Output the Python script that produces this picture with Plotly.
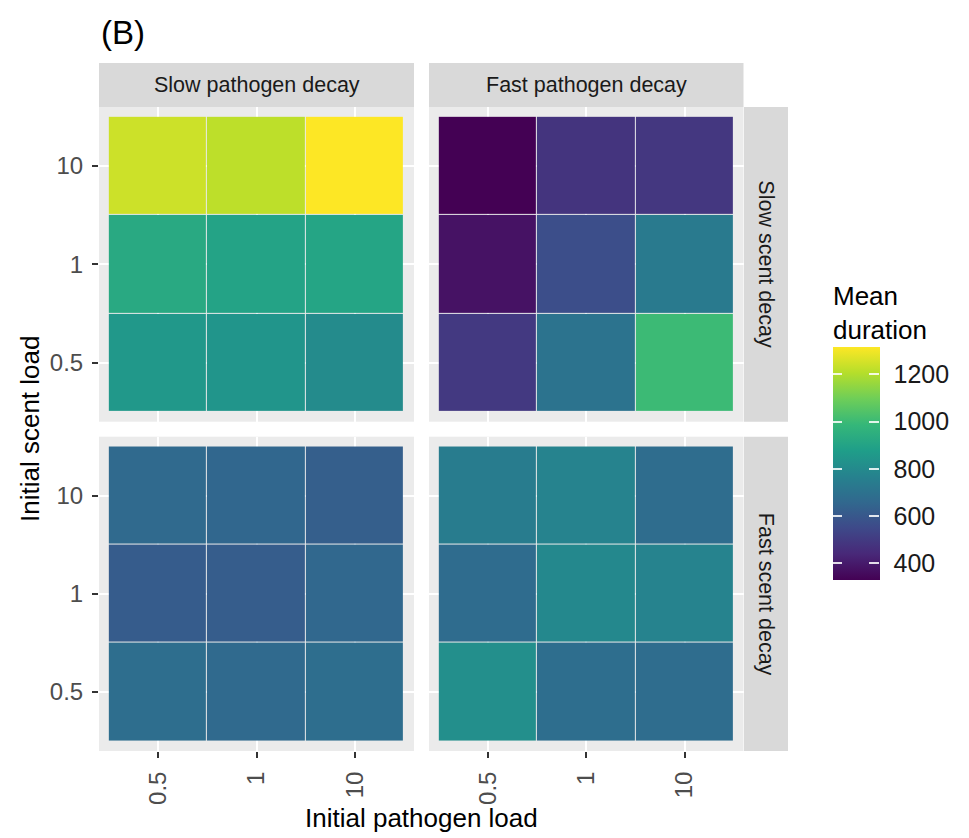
import plotly.graph_objects as go

# ---- data ----
pathogen_loads = ["0.5", "1", "10"]
scent_loads = ["0.5", "1", "10"]
pathogen_facets = ["Slow pathogen decay", "Fast pathogen decay"]
scent_facets = ["Slow scent decay", "Fast scent decay"]

# rows: scent load 0.5, 1, 10 ; columns: pathogen load 0.5, 1, 10
slow_path_slow_scent = [[852, 842, 803],
                        [926, 901, 906],
                        [1241, 1217, 1315]]
fast_path_slow_scent = [[497, 704, 1000],
                        [379, 566, 734],
                        [330, 478, 488]]
slow_path_fast_scent = [[685, 665, 685],
                        [616, 620, 660],
                        [665, 655, 625]]
fast_path_fast_scent = [[818, 685, 680],
                        [675, 793, 773],
                        [744, 773, 680]]

facet_values = {
    (0, 0): slow_path_slow_scent,
    (0, 1): fast_path_slow_scent,
    (1, 0): slow_path_fast_scent,
    (1, 1): fast_path_fast_scent,
}
colorbar_ticks = [400, 600, 800, 1000, 1200]
CMIN, CMAX = 330, 1315

W, H = 969, 838
def px_x(v):
    return v / W
def px_y(v):
    return 1 - v / H

col_dom = [(px_x(99), px_x(414)), (px_x(429), px_x(743.5))]
row_dom = [(px_y(421.7), px_y(107)), (px_y(751), px_y(436.7))]

# colour bar geometry (pixels)
CB_LEFT, CB_TOP, CB_LEN, CB_THICK = 832.7, 347, 233, 47
TICK_LEN = CB_THICK / 5

FONT = "Liberation Sans, Arial, sans-serif"
CLEAR = [[0, "rgba(0,0,0,0)"], [1, "rgba(0,0,0,0)"]]


def overlay_colorbar(left_px):
    """Transparent colour bar that only contributes white inside tick marks."""
    return dict(
        colorscale=CLEAR, cmin=CMIN, cmax=CMAX,
        colorbar=dict(
            x=px_x(left_px), xanchor="left", xpad=0,
            y=px_y(CB_TOP), yanchor="top", ypad=0,
            len=CB_LEN / H, lenmode="fraction",
            thickness=TICK_LEN, outlinewidth=0, borderwidth=0,
            tickvals=colorbar_ticks, showticklabels=False,
            ticks="inside", ticklen=TICK_LEN, tickcolor="rgba(255,255,255,0.85)", tickwidth=1.5,
            title=dict(text=""),
        ),
    )


fig = go.Figure()
layout = dict(
    width=W, height=H,
    margin=dict(l=0, r=0, t=0, b=0),
    paper_bgcolor="white",
    plot_bgcolor="#EBEBEB",
    font=dict(family=FONT, color="#1A1A1A"),
    showlegend=False,
    coloraxis=dict(
        colorscale="Viridis", cmin=CMIN, cmax=CMAX,
        colorbar=dict(
            x=px_x(CB_LEFT), xanchor="left", xpad=0,
            y=px_y(CB_TOP), yanchor="top", ypad=0,
            len=CB_LEN / H, lenmode="fraction",
            thickness=CB_THICK, outlinewidth=0, borderwidth=0,
            tickvals=colorbar_ticks,
            ticks="outside", ticklen=9, tickcolor="rgba(255,255,255,0)", tickwidth=1,
            tickfont=dict(size=25, color="#1A1A1A", family=FONT),
            title=dict(text=""),
        ),
    ),
    coloraxis2=overlay_colorbar(CB_LEFT + CB_THICK - TICK_LEN),
    coloraxis3=overlay_colorbar(CB_LEFT),
)

shapes = []
annotations = []
idx = 0
for r in range(2):
    for c in range(2):
        idx += 1
        xa = "x" if idx == 1 else f"x{idx}"
        ya = "y" if idx == 1 else f"y{idx}"
        fig.add_trace(go.Heatmap(
            x=pathogen_loads, y=scent_loads, z=facet_values[(r, c)],
            coloraxis="coloraxis", xgap=1, ygap=1,
            xaxis=xa, yaxis=ya,
        ))
        xkey = "xaxis" if idx == 1 else f"xaxis{idx}"
        ykey = "yaxis" if idx == 1 else f"yaxis{idx}"
        layout[xkey] = dict(
            domain=col_dom[c], anchor=ya, type="category",
            categoryorder="array", categoryarray=pathogen_loads,
            range=[-0.6, 2.6], showgrid=True, gridcolor="white", gridwidth=2,
            zeroline=False, showline=False, fixedrange=True,
            ticks="outside" if r == 1 else "", ticklen=6, tickwidth=2, tickcolor="#333333",
            showticklabels=(r == 1), tickangle=-90,
            tickfont=dict(size=24, color="#4D4D4D", family=FONT),
            ticklabelstandoff=4,
        )
        layout[ykey] = dict(
            domain=row_dom[r], anchor=xa, type="category",
            categoryorder="array", categoryarray=scent_loads,
            range=[-0.6, 2.6], showgrid=True, gridcolor="white", gridwidth=2,
            zeroline=False, showline=False, fixedrange=True,
            ticks="outside" if c == 0 else "", ticklen=6, tickwidth=2, tickcolor="#333333",
            showticklabels=(c == 0),
            tickfont=dict(size=24, color="#4D4D4D", family=FONT),
            ticklabelstandoff=4,
        )

# invisible helper traces that carry the tick-only overlay colour bars
for ca in ["coloraxis2", "coloraxis3"]:
    fig.add_trace(go.Scatter(
        x=pathogen_loads, y=scent_loads, mode="markers", hoverinfo="skip",
        marker=dict(color=colorbar_ticks[:3], coloraxis=ca, opacity=0, size=1),
        xaxis="x", yaxis="y",
    ))

# top strips
for c, label in enumerate(pathogen_facets):
    x0, x1 = col_dom[c]
    y0, y1 = px_y(107), px_y(63)
    shapes.append(dict(type="rect", xref="paper", yref="paper", x0=x0, x1=x1, y0=y0, y1=y1,
                       fillcolor="#D9D9D9", line=dict(width=0), layer="below"))
    annotations.append(dict(text=label, xref="paper", yref="paper", x=(x0 + x1) / 2, y=(y0 + y1) / 2,
                            showarrow=False, xanchor="center", yanchor="middle",
                            font=dict(size=21.5, color="#1A1A1A", family=FONT)))
# right strips
for r, label in enumerate(scent_facets):
    y0, y1 = row_dom[r]
    x0, x1 = px_x(744), px_x(788)
    shapes.append(dict(type="rect", xref="paper", yref="paper", x0=x0, x1=x1, y0=y0, y1=y1,
                       fillcolor="#D9D9D9", line=dict(width=0), layer="below"))
    annotations.append(dict(text=label, xref="paper", yref="paper", x=(x0 + x1) / 2, y=(y0 + y1) / 2,
                            showarrow=False, xanchor="center", yanchor="middle", textangle=90,
                            font=dict(size=21.5, color="#1A1A1A", family=FONT)))

# axis titles
annotations.append(dict(text="Initial pathogen load", xref="paper", yref="paper",
                        x=(col_dom[0][0] + col_dom[1][1]) / 2, y=px_y(818),
                        showarrow=False, xanchor="center", yanchor="middle",
                        font=dict(size=26, color="black", family=FONT)))
annotations.append(dict(text="Initial scent load", xref="paper", yref="paper",
                        x=px_x(30), y=(row_dom[0][1] + row_dom[1][0]) / 2,
                        showarrow=False, xanchor="center", yanchor="middle", textangle=-90,
                        font=dict(size=26, color="black", family=FONT)))
# panel tag
annotations.append(dict(text="(B)", xref="paper", yref="paper", x=px_x(99), y=px_y(33),
                        showarrow=False, xanchor="left", yanchor="middle",
                        font=dict(size=33, color="black", family=FONT)))
# legend title
annotations.append(dict(text="Mean<br>duration", xref="paper", yref="paper", x=px_x(831), y=px_y(279),
                        showarrow=False, xanchor="left", yanchor="top", align="left",
                        font=dict(size=26, color="black", family=FONT)))

layout["shapes"] = shapes
layout["annotations"] = annotations
fig.update_layout(**layout)
fig.write_html("out.html")
